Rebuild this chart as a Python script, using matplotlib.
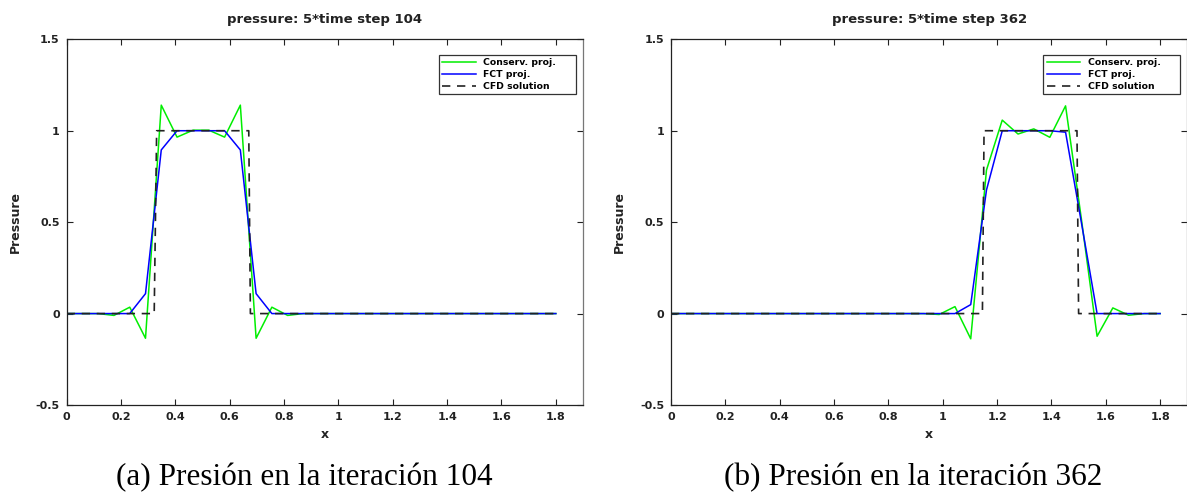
import numpy as np
import matplotlib
matplotlib.use("Agg")
import matplotlib.pyplot as plt

# mesh nodes (32 nodes on [0, 1.8])
x_nodes = [0.000, 0.058, 0.116, 0.174, 0.232, 0.290, 0.348, 0.406,
           0.465, 0.523, 0.581, 0.639, 0.697, 0.755, 0.813, 0.871,
           0.929, 0.987, 1.045, 1.103, 1.161, 1.219, 1.277, 1.335,
           1.394, 1.452, 1.510, 1.568, 1.626, 1.684, 1.742, 1.800]

# time step 104
conserv_104 = [0, 0, 0, -0.01, 0.035, -0.135, 1.14, 0.965,
               1.003, 1.003, 0.965, 1.14, -0.135, 0.035, -0.01, 0,
               0, 0, 0, 0, 0, 0, 0, 0,
               0, 0, 0, 0, 0, 0, 0, 0]
fct_104 = [0, 0, 0, 0, 0, 0.109, 0.895, 1.0,
           1.0, 1.0, 1.0, 0.895, 0.109, 0, 0, 0,
           0, 0, 0, 0, 0, 0, 0, 0,
           0, 0, 0, 0, 0, 0, 0, 0]
cfd_x_104 = [0, 0.322, 0.331, 0.670, 0.676, 1.8]
cfd_y_104 = [0, 0, 1, 1, 0, 0]

# time step 362
conserv_362 = [0, 0, 0, 0, 0, 0, 0, 0,
               0, 0, 0, 0, 0, 0, 0, 0,
               0, -0.005, 0.038, -0.138, 0.785, 1.058, 0.982, 1.01,
               0.964, 1.136, 0.52, -0.124, 0.031, -0.009, 0, 0]
fct_362 = [0, 0, 0, 0, 0, 0, 0, 0,
           0, 0, 0, 0, 0, 0, 0, 0,
           0, 0, 0, 0.049, 0.676, 1.0, 1.0, 1.0,
           1.0, 0.992, 0.5, 0, 0, 0, 0, 0]
cfd_x_362 = [0, 1.146, 1.152, 1.494, 1.500, 1.8]
cfd_y_362 = [0, 0, 1, 1, 0, 0]

steps = [104, 362]
captions = ["(a) Presión en la iteración 104", "(b) Presión en la iteración 362"]
x_ticks = [0, 0.2, 0.4, 0.6, 0.8, 1, 1.2, 1.4, 1.6, 1.8]
x_tick_labels = ["0", "0.2", "0.4", "0.6", "0.8", "1", "1.2", "1.4", "1.6", "1.8"]
y_ticks = [-0.5, 0, 0.5, 1, 1.5]
y_tick_labels = ["-0.5", "0", "0.5", "1", "1.5"]

plt.rcParams['font.family'] = ['DejaVu Sans']
plt.rcParams['font.weight'] = 'bold'

W, H = 1187, 495
fig = plt.figure(figsize=(W / 100, H / 100), dpi=100)

panels = [
    (66.7, conserv_104, fct_104, cfd_x_104, cfd_y_104),
    (671.0, conserv_362, fct_362, cfd_x_362, cfd_y_362),
]
ax_w, ax_top, ax_bot = 516.3, 39.3, 405.0
ax_h = ax_bot - ax_top

for i, (left, cons, fct, cx, cy) in enumerate(panels):
    ax = fig.add_axes([left / W, 1 - ax_bot / H, ax_w / W, ax_h / H])
    ax.plot(x_nodes, cons, color='#00ee00', lw=1.1, label='Conserv. proj.')
    ax.plot(x_nodes, fct, color='#0000ff', lw=1.1, label='FCT proj.')
    ax.plot(cx, cy, color='#222222', lw=1.2, linestyle=(0, (5, 4)),
            label='CFD solution')
    ax.set_xlim(0, 1.9)
    ax.set_ylim(-0.5, 1.5)
    ax.set_xticks(x_ticks)
    ax.set_xticklabels(x_tick_labels)
    ax.set_yticks(y_ticks)
    ax.set_yticklabels(y_tick_labels)
    ax.tick_params(direction='in', length=4, width=0.8, top=True, right=True,
                   labelsize=8, colors='#222222', pad=5)
    for lab in ax.get_xticklabels() + ax.get_yticklabels():
        lab.set_fontweight('bold')
    for s in ['left', 'bottom', 'top']:
        ax.spines[s].set_color('#222222')
        ax.spines[s].set_linewidth(0.9)
    ax.spines['right'].set_color('#777777')
    ax.spines['right'].set_linewidth(0.9)
    ax.set_title('pressure: 5*time step %d' % steps[i], fontsize=9.5,
                 fontweight='bold', color='#222222', pad=12)
    ax.set_xlabel('x', fontsize=9, fontweight='bold', color='#222222', labelpad=4)
    ax.set_ylabel('Pressure', fontsize=9, fontweight='bold', color='#222222',
                  labelpad=10)
    # legend box spans roughly 137 px, 7 px in from the right edge
    leg_x0 = (439 - 66.7) / ax_w
    leg_w = 137 / ax_w
    leg_y = 1 - (55 - ax_top) / ax_h
    leg = ax.legend(loc='upper left', bbox_to_anchor=(leg_x0, leg_y, leg_w, 0),
                    mode='expand', borderaxespad=0, fontsize=6.7,
                    handlelength=3.6, handletextpad=0.8, labelspacing=0.32,
                    borderpad=0.35, fancybox=False, framealpha=1)
    leg.get_frame().set_edgecolor('#333333')
    leg.get_frame().set_linewidth(0.9)
    for t in leg.get_texts():
        t.set_fontweight('bold')

cap_x = [304, 913]
for i in range(2):
    fig.text(cap_x[i] / W, 1 - 478 / H, captions[i], ha='center', va='center',
             fontsize=22.5, family='Liberation Serif', fontweight='normal')

fig.savefig('out.png', dpi=100)
